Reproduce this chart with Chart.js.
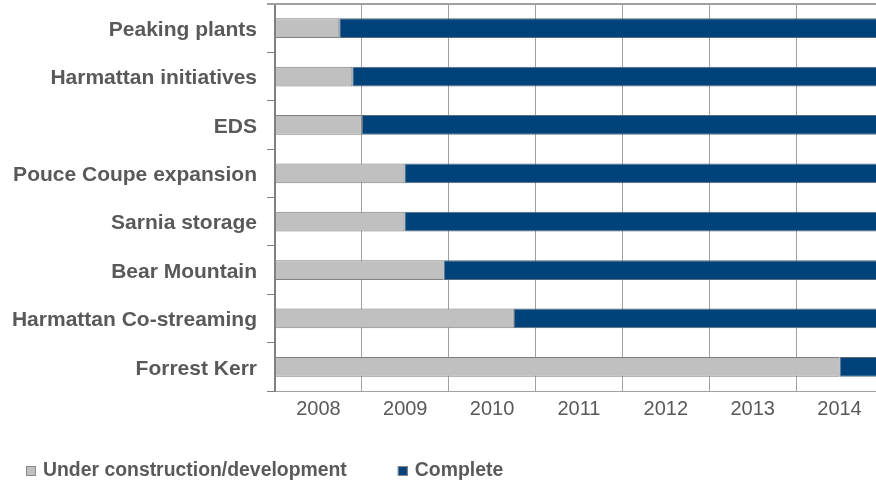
<!DOCTYPE html>
<html>
<head>
<meta charset="utf-8">
<script src="https://cdn.jsdelivr.net/npm/chart.js@4.4.1/dist/chart.umd.min.js"></script>
<style>
  html, body { margin: 0; padding: 0; background: #ffffff; }
  #wrap { width: 876px; height: 484px; position: relative; }
</style>
</head>
<body>
<div id="wrap"><canvas id="c"></canvas></div>
<script>
// ---- data ----
const projects = ["Peaking plants", "Harmattan initiatives", "EDS", "Pouce Coupe expansion",
                  "Sarnia storage", "Bear Mountain", "Harmattan Co-streaming", "Forrest Kerr"];
const completionYear = [2008.74, 2008.89, 2009.0, 2009.49, 2009.49, 2009.94, 2010.75, 2014.5];
const yearTicks = [2008, 2009, 2010, 2011, 2012, 2013, 2014];
const seriesNames = ["Under construction/development", "Complete"];
const axisStart = 2008;
const axisEnd = 2014.92;

const textColor = "#595959";
const fontFamily = "'Liberation Sans', Arial, sans-serif";

const underData = completionYear.map(v => [axisStart, v]);
const completeData = completionYear.map(v => [v, 2016]);

const topBorder = {
  id: 'topBorder',
  afterDraw(chart) {
    const { ctx, chartArea } = chart;
    ctx.save();
    ctx.fillStyle = '#a0a0a0';
    ctx.fillRect(chartArea.left - 8, chartArea.top - 1, chartArea.right - chartArea.left + 8, 2);
    ctx.restore();
  }
};

const customLegend = {
  id: 'customLegend',
  afterDraw(chart) {
    const ctx = chart.ctx;
    ctx.save();
    ctx.font = "bold 19.4px " + fontFamily;
    ctx.textBaseline = 'middle';
    let x = 26;
    const yc = 471;
    chart.data.datasets.forEach(ds => {
      ctx.fillStyle = ds.backgroundColor;
      ctx.fillRect(x, yc - 5, 10, 10);
      ctx.strokeStyle = '#8a8a8a';
      ctx.lineWidth = 1;
      ctx.strokeRect(x + 0.5, yc - 4.5, 9, 9);
      ctx.fillStyle = textColor;
      ctx.fillText(ds.label, x + 17, yc);
      x += 17 + ctx.measureText(ds.label).width + 51;
    });
    ctx.restore();
  }
};

new Chart(document.getElementById('c'), {
  type: 'bar',
  data: {
    labels: projects,
    datasets: [
      {
        label: seriesNames[0],
        data: underData,
        backgroundColor: '#c0c0c0',
        borderColor: '#7f7f7f',
        borderWidth: 1,
        borderSkipped: false,
        grouped: false,
        barPercentage: 0.41,
        categoryPercentage: 1.0
      },
      {
        label: seriesNames[1],
        data: completeData,
        backgroundColor: '#00427a',
        borderColor: '#5a6a7a',
        borderWidth: 1,
        borderSkipped: false,
        grouped: false,
        barPercentage: 0.41,
        categoryPercentage: 1.0
      }
    ]
  },
  options: {
    indexAxis: 'y',
    responsive: true,
    maintainAspectRatio: false,
    animation: false,
    devicePixelRatio: 1,
    layout: { padding: { top: 4, right: 0, left: 0, bottom: 58 } },
    plugins: {
      legend: { display: false },
      tooltip: { enabled: false }
    },
    scales: {
      x: {
        type: 'linear',
        min: axisStart,
        max: axisEnd,
        afterBuildTicks(scale) {
          scale.ticks = yearTicks.map(v => ({ value: v }));
        },
        afterFit(scale) {
          scale.height = 35;
          scale.paddingLeft = 0;
          scale.paddingRight = 0;
        },
        grid: {
          drawTicks: false,
          color: c => (c.tick && c.tick.value === axisStart) ? 'rgba(0,0,0,0)' : '#a0a0a0',
          lineWidth: 1
        },
        border: { display: true, color: '#a0a0a0', width: 1 },
        ticks: {
          labelOffset: 43.4,
          padding: 6,
          color: textColor,
          font: { family: fontFamily, size: 20 },
          maxRotation: 0,
          autoSkip: false,
          callback: v => String(v)
        }
      },
      y: {
        type: 'category',
        offset: true,
        afterFit(scale) {
          scale.width = 275;
          scale.paddingTop = 0;
          scale.paddingBottom = 0;
        },
        grid: {
          offset: true,
          drawOnChartArea: false,
          drawTicks: true,
          tickLength: 8,
          color: 'rgba(0,0,0,0)',
          tickColor: '#808080',
          lineWidth: 1
        },
        border: { display: true, color: '#808080', width: 2 },
        ticks: {
          padding: 10,
          labelOffset: 2,
          color: textColor,
          font: { family: fontFamily, size: 21, weight: 'bold' },
          autoSkip: false
        }
      }
    }
  },
  plugins: [topBorder, customLegend]
});
</script>
</body>
</html>
